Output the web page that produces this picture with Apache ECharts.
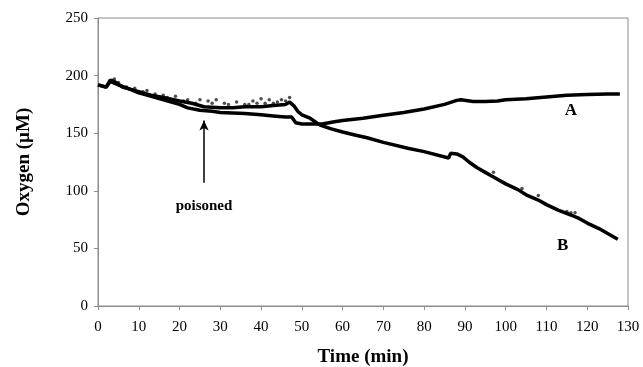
<!DOCTYPE html>
<html><head><meta charset="utf-8">
<script src="https://cdn.jsdelivr.net/npm/echarts@6/dist/echarts.min.js"></script>
<style>html,body{margin:0;padding:0;background:#fff}#c{width:643px;height:367px}</style>
</head><body><div id="c"></div>
<script>
const timeA = [0,2,3,4,6,8,10,12,15,18,20,22,25,28,30,33,36,40,43,46,47.5,48.5,50,52,55,58,60,65,70,75,80,85,88,89,92,95,98,100,105,110,115,120,125,128];
const oxyA  = [192,190,196,195,190,188,185,183,180,177,175,172,170,169,168,167.5,167,166,165,164,164,159,158,158,158,160,161,163,165.5,168,171,175,178.5,179,177.5,177.5,178,179,180,181.5,183,183.5,184,184];
const timeB = [0,2,3,5,8,10,13,16,20,23,26,30,33,36,40,43,46,47,48,49,50,52,54.5,57,60,63,66,70,76,80,86,86.5,88,89.5,91,93,95,97,100,103,105,108,110,113,116,118,120,123,125,127.5];
const oxyB  = [192,190,195,192,188,186,183,181,178,176,173,172,172,173,173,174,175,177,174,169,166,163,157,154,151,148.5,146,142,137,134,128.5,132.5,132,129.5,125,120,116,112,106,101,96.5,92,88,83,79,76,72,67,63,58];
const dotT  = [4,5,7,9,11,12,14,16,17,19,21,22,24,25,27,28,29,31,32,34,36,37,38,39,40,41,42,43,44,45,46,47,97,104,108,115,116,117];
const dotV  = [197,194,190,189,186,187,184,183,181,182,178,179,176,179,178,176,179,176,175,177,175,175,178,176,180,176,179,176,177,179,178,181,116,102,96,82,81,81];
const xTicks = {min:0, max:130, step:10};
const yTicks = {min:0, max:250, step:50};
const annot = {poison:[26,87], arrowFrom:[26,107], arrowTo:[26,161], labelA:[116,170], labelB:[114,52]};

const serif = '"Liberation Serif","Times New Roman",serif';
const pair = (t,v)=>t.map((x,i)=>[x,v[i]]);
const txt = (coord, s, size)=>({coord:coord, symbol:'circle', symbolSize:1, itemStyle:{color:'rgba(0,0,0,0)'},
  label:{show:true, position:'inside', formatter:s, fontFamily:serif, fontWeight:'bold', fontSize:size, color:'#000'}});
const chart = echarts.init(document.getElementById('c'));
chart.setOption({
  animation:false,
  grid:{left:98,right:15,top:18,bottom:61,containLabel:false,outerBoundsMode:'none',show:true,borderColor:'#8c8c8c',borderWidth:1},
  xAxis:{type:'value',min:xTicks.min,max:xTicks.max,interval:xTicks.step,
    name:'Time (min)',nameLocation:'middle',nameGap:42,
    nameTextStyle:{fontFamily:serif,fontWeight:'bold',fontSize:19,color:'#000'},
    axisLine:{lineStyle:{color:'#8c8c8c'}},axisTick:{show:true,length:4,lineStyle:{color:'#8c8c8c'}},
    axisLabel:{fontFamily:serif,fontSize:15,color:'#000',margin:14},splitLine:{show:false}},
  yAxis:{type:'value',min:yTicks.min,max:yTicks.max,interval:yTicks.step,
    name:'Oxygen (\u00b5M)',nameLocation:'middle',nameGap:64,
    nameTextStyle:{fontFamily:serif,fontWeight:'bold',fontSize:19,color:'#000'},
    axisLine:{show:true,lineStyle:{color:'#8c8c8c'}},axisTick:{show:true,length:4,lineStyle:{color:'#8c8c8c'}},
    axisLabel:{fontFamily:serif,fontSize:15,color:'#000',margin:10},splitLine:{show:false}},
  series:[
    {name:'A',type:'line',data:pair(timeA,oxyA),showSymbol:false,lineStyle:{color:'#000',width:3.5},
      markPoint:{silent:true,data:[txt(annot.labelA,'A',17)]},
      markLine:{silent:true,symbol:['none','arrow'],symbolSize:[7,10],label:{show:false},
        lineStyle:{color:'#000',width:1.5,type:'solid'},data:[[{coord:annot.arrowFrom},{coord:annot.arrowTo}]]}},
    {name:'B',type:'line',data:pair(timeB,oxyB),showSymbol:false,lineStyle:{color:'#000',width:3.5},
      markPoint:{silent:true,data:[txt(annot.labelB,'B',17),txt(annot.poison,'poisoned',15)]}},
    {name:'Bdots',type:'scatter',data:pair(dotT,dotV),symbolSize:3.5,itemStyle:{color:'#222'}}
  ]
});
</script></body></html>
